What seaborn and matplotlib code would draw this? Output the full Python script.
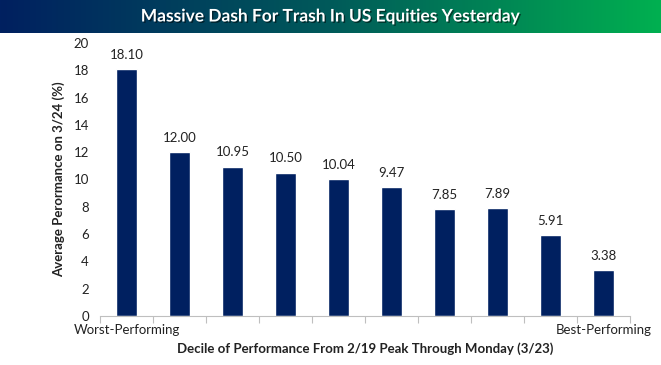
import numpy as np
import pandas as pd
import matplotlib
matplotlib.use("Agg")
import matplotlib.pyplot as plt
import seaborn as sns
from matplotlib.colors import LinearSegmentedColormap
import matplotlib.patheffects as pe

deciles = ["1", "2", "3", "4", "5", "6", "7", "8", "9", "10"]
values = [18.10, 12.00, 10.95, 10.50, 10.04, 9.47, 7.85, 7.89, 5.91, 3.38]
tick_labels = ["Worst-Performing", "", "", "", "", "", "", "", "", "Best-Performing"]
title = "Massive Dash For Trash In US Equities Yesterday"
xlabel = "Decile of Performance From 2/19 Peak Through Monday (3/23)"
ylabel = "Average Perormance on 3/24 (%)"

sns.set_theme(style="white")
plt.rcParams['font.family'] = ['Lato', 'DejaVu Sans']

df = pd.DataFrame({"decile": deciles, "value": values})

fig = plt.figure(figsize=(6.61, 3.65), dpi=100)
ax = fig.add_axes([100/661, 1-316/365, 530/661, 273/365])

sns.barplot(data=df, x="decile", y="value", color="#002060", width=0.4,
            saturation=1, ax=ax)

for i, v in enumerate(values):
    ax.text(i, v + 0.6, f"{v:.2f}", ha="center", va="bottom", fontsize=9.5, color="#222222")

ax.set_ylim(0, 20)
ax.set_yticks(range(0, 21, 2))
ax.set_xlim(-0.5, 9.5)
ax.set_xticks(np.arange(-0.5, 10, 1))
ax.set_xticklabels([])
ax.tick_params(axis="x", which="major", length=5, color="#bfbfbf", width=0.8, direction="out", bottom=True)
ax.set_xticks(range(10), minor=True)
ax.set_xticklabels(tick_labels, minor=True)
ax.tick_params(axis="x", which="minor", length=0, labelsize=9.5, pad=6, colors="#222222")
ax.tick_params(axis="y", length=0, labelsize=9.5, pad=8, colors="#222222")
for s in ["top", "right", "left"]:
    ax.spines[s].set_visible(False)
ax.spines["bottom"].set_color("#bfbfbf")
ax.spines["bottom"].set_linewidth(0.8)
ax.set_xlabel(xlabel, fontsize=9.5, fontweight="bold", color="#222222", labelpad=4)
ax.set_ylabel(ylabel, fontsize=9.5, fontweight="bold", color="#222222", labelpad=6)
ax.grid(False)

# title banner
bax = fig.add_axes([0, 1-33/365, 1, 33/365])
cmap = LinearSegmentedColormap.from_list("g", ["#002060", "#005a5a", "#00b050"])
bax.imshow(np.linspace(0, 1, 256)[None, :], aspect="auto", cmap=cmap, extent=[0, 1, 0, 1])
bax.set_axis_off()
bax.text(0.5, 0.5, title, ha="center", va="center", color="white", fontsize=12.5,
         fontweight="bold", transform=bax.transAxes,
         path_effects=[pe.withSimplePatchShadow(offset=(1, -1), shadow_rgbFace="black", alpha=0.5)])

fig.savefig("out.png", dpi=100)
